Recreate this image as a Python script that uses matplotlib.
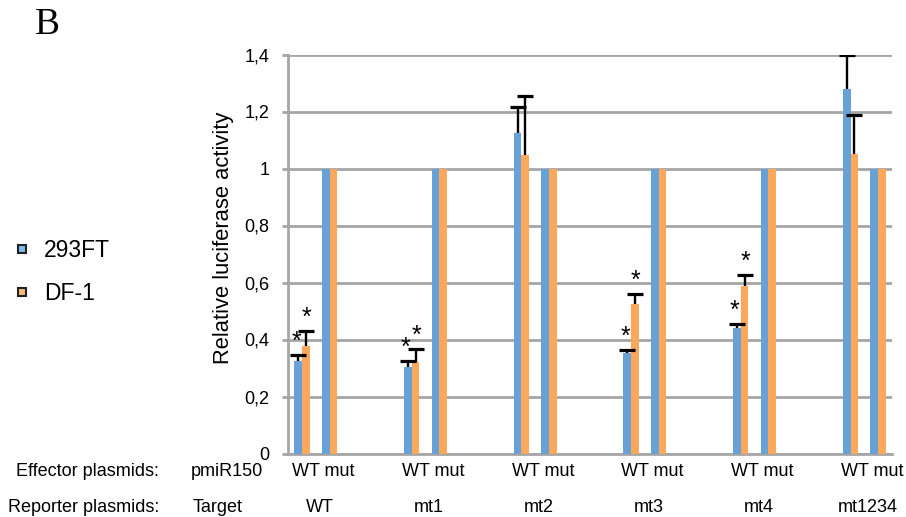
import matplotlib
matplotlib.use("Agg")
import matplotlib.pyplot as plt
import matplotlib.transforms as mtransforms
from matplotlib.lines import Line2D
import numpy as np

plt.rcParams['font.family'] = ['Liberation Sans', 'DejaVu Sans']

# ---- data ----
reporters = ['WT', 'mt1', 'mt2', 'mt3', 'mt4', 'mt1234']
effector_labels = ['WT mut'] * 6
series = ['293FT', 'DF-1']
ft_wt = [0.324, 0.304, 1.123, 0.351, 0.442, 1.278]
ft_wt_err = [0.021, 0.021, 0.092, 0.012, 0.011, 0.120]
df_wt = [0.378, 0.321, 1.046, 0.526, 0.587, 1.052]
df_wt_err = [0.051, 0.047, 0.210, 0.033, 0.040, 0.134]
ft_mut = [1, 1, 1, 1, 1, 1]
df_mut = [1, 1, 1, 1, 1, 1]
sig_ft = [True, True, False, True, True, False]
sig_df = [True, True, False, True, True, False]
yticks = [0, 0.2, 0.4, 0.6, 0.8, 1.0, 1.2, 1.4]
ytick_labels = ['0', '0,2', '0,4', '0,6', '0,8', '1', '1,2', '1,4']

blue = '#67A1D8'
orange = '#FBA75C'
grid_c = '#A6A6A6'

fig = plt.figure(figsize=(9.06, 5.17), dpi=100)
W, H = 906, 517
ax = fig.add_axes([288 / W, 1 - 453.5 / H, (892 - 288) / W, (453.5 - 54.5) / H])

x = np.arange(len(reporters))
w = 0.070
mut_off = 0.2507

ax.bar(x - w / 2, ft_wt, w, color=blue, zorder=3)
ax.bar(x + w / 2, df_wt, w, color=orange, zorder=3)
ax.bar(x + mut_off - w / 2, ft_mut, w, color=blue, zorder=3)
ax.bar(x + mut_off + w / 2, df_mut, w, color=orange, zorder=3)

zeros = np.zeros(len(x))
for xs, vals, errs, sig, dx in [(x - w / 2, ft_wt, ft_wt_err, sig_ft, -1.5),
                                (x + w / 2, df_wt, df_wt_err, sig_df, 0.5)]:
    vals = np.asarray(vals)
    errs = np.asarray(errs)
    ax.errorbar(xs, vals, yerr=[zeros, errs], fmt='none', ecolor='black',
                elinewidth=1.7, capsize=0, zorder=4)
    ax.plot(xs, vals + errs, linestyle='none', marker='_', markersize=11.5,
            markeredgewidth=2.3, color='black', zorder=4)
    for xi, top, s in zip(xs, vals + errs, sig):
        if s:
            ax.annotate('*', (xi, top), xytext=(dx, 9.5), textcoords='offset points',
                        ha='center', va='center', fontsize=18, zorder=5)

ax.set_xlim((288 - 302) / 109.7, (892 - 302) / 109.7)
ax.set_ylim(0, 1.4)
ax.set_yticks(yticks)
ax.set_yticklabels(ytick_labels, fontsize=13)
ax.set_xticks([])
ax.yaxis.grid(True, color=grid_c, linewidth=2.0, zorder=0)
ax.set_axisbelow(True)
for sp in ['top', 'right']:
    ax.spines[sp].set_visible(False)
for sp in ['left', 'bottom']:
    ax.spines[sp].set_color(grid_c)
    ax.spines[sp].set_linewidth(2.0)
ax.tick_params(axis='y', length=4.3, width=2.0, color=grid_c, pad=9)

fig.text(223 / W, 1 - 238 / H, 'Relative luciferase activity', rotation=90,
         ha='center', va='center', fontsize=15.8)

# category labels below axis
trans = mtransforms.blended_transform_factory(ax.transData, fig.transFigure)
for xi, lab in zip(x, effector_labels):
    ax.text(xi + 0.197, 1 - 471 / H, lab, transform=trans, ha='center', va='center', fontsize=13)
for xi, lab in zip(x, reporters):
    ax.text(xi + 0.16, 1 - 508 / H, lab, transform=trans, ha='center', va='center', fontsize=13)
fig.text(159 / W, 1 - 471 / H, 'Effector plasmids:', ha='right', va='center', fontsize=13)
fig.text(159 / W, 1 - 508 / H, 'Reporter plasmids:', ha='right', va='center', fontsize=13)
fig.text(227 / W, 1 - 471 / H, 'pmiR150', ha='center', va='center', fontsize=13)
fig.text(218 / W, 1 - 508 / H, 'Target', ha='center', va='center', fontsize=13)

fig.text(35 / W, 1 - 25 / H, 'B', ha='left', va='center', fontsize=27,
         family=['Liberation Serif', 'DejaVu Serif'])

handles = [Line2D([], [], linestyle='none', marker='s', markersize=6,
                  markerfacecolor='#7DBDEB', markeredgecolor='#222222', markeredgewidth=1.5),
           Line2D([], [], linestyle='none', marker='s', markersize=6,
                  markerfacecolor='#F8B87A', markeredgecolor='#222222', markeredgewidth=1.5)]
fig.legend(handles, series, loc='center left', bbox_to_anchor=(15 / W, 1 - 272 / H),
           frameon=False, fontsize=16.5, handlelength=0.6, handletextpad=0.68,
           labelspacing=0.85, borderaxespad=0, borderpad=0)

fig.savefig('out.png', dpi=100)
